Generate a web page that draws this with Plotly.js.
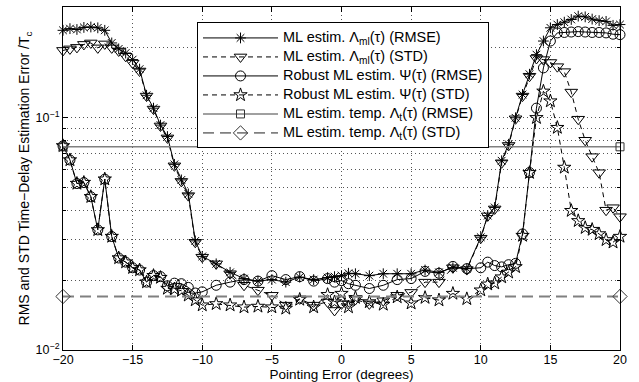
<!DOCTYPE html>
<html>
<head>
<meta charset="utf-8">
<script src="https://cdn.plot.ly/plotly-3.0.1.min.js"></script>
<style>html,body{margin:0;padding:0;background:#fff;}#chart{width:639px;height:382px;}</style>
</head>
<body>
<div id="chart"></div>
<script>
// Pointing error (degrees)
const pointingError = [-20,-19.5,-19,-18.5,-18,-17.5,-17,-16.5,-16,-15.5,-15,-14.5,-14,-13.5,-13,-12.5,-12,-11.5,-11,-10.5,-10,
  -9,-8,-7,-6,-5,-4,-3,-2,
  -1,-0.5,0,0.5,1,
  2,3,4,5,6,7,8,9,
  10,10.5,11,11.5,12,12.5,13,13.5,14,14.5,15,15.5,16,16.5,17,17.5,18,18.5,19,19.5,20];

const mlRmse = [0.238,0.242,0.240,0.245,0.246,0.244,0.238,0.210,0.198,0.190,0.178,0.162,0.125,0.110,0.093,0.083,0.063,0.054,0.047,0.0295,0.0253,
  0.0235,0.0216,0.0203,0.0198,0.0201,0.0196,0.0206,0.0201,
  0.0205,0.0207,0.0209,0.0214,0.0213,
  0.0209,0.0213,0.0213,0.0213,0.0221,0.0216,0.0226,0.0224,
  0.0306,0.0379,0.0411,0.0653,0.0769,0.100,0.126,0.154,0.187,0.214,0.244,0.252,0.258,0.265,0.274,0.272,0.266,0.262,0.260,0.250,0.252];

const mlStd = [0.195,0.198,0.201,0.207,0.210,0.200,0.208,0.200,0.194,0.184,0.172,0.159,0.124,0.109,0.0922,0.0819,0.0621,0.0532,0.0462,0.0291,0.0251,
  0.0235,0.0213,0.0190,0.0181,0.0172,0.0156,0.0166,0.0156,
  0.0161,0.0148,0.0158,0.0158,0.0165,
  0.0158,0.0163,0.0172,0.0177,0.0196,0.0196,0.0226,0.0222,
  0.0303,0.0378,0.0405,0.064,0.076,0.099,0.124,0.151,0.180,0.178,0.173,0.166,0.158,0.129,0.0986,0.080,0.068,0.058,0.040,0.041,0.0375];

const robustRmse = [0.0757,0.0658,0.0521,0.0526,0.0457,0.0329,0.0544,0.0308,0.0249,0.0239,0.0226,0.0221,0.0196,0.0209,0.0207,0.0189,0.0194,0.0193,0.0186,0.0176,0.0178,
  0.0190,0.0196,0.0201,0.0198,0.0209,0.0201,0.0207,0.0198,
  0.0203,0.0196,0.0199,0.0193,0.0190,
  0.0184,0.0190,0.0201,0.0203,0.0218,0.0214,0.0229,0.0224,
  0.0226,0.0239,0.0231,0.0228,0.0233,0.0236,0.0316,0.0581,0.110,0.164,0.214,0.232,0.233,0.234,0.235,0.234,0.233,0.233,0.232,0.229,0.228];

const robustStd = [0.0757,0.0658,0.0521,0.0526,0.0457,0.0329,0.0544,0.0308,0.0249,0.0239,0.0226,0.0221,0.0196,0.0209,0.0205,0.0184,0.0183,0.0180,0.0172,0.0164,0.0156,
  0.0158,0.0156,0.0153,0.0154,0.0153,0.0151,0.0165,0.0153,
  0.0173,0.0161,0.0175,0.0153,0.0168,
  0.0161,0.0157,0.0169,0.0159,0.0168,0.0164,0.0175,0.0166,
  0.0181,0.0192,0.0194,0.0206,0.0216,0.0228,0.0311,0.058,0.100,0.130,0.118,0.0907,0.0611,0.0398,0.0360,0.0336,0.0330,0.0316,0.0298,0.0291,0.0308];

const tempX = [-20, 20];
const tempRmse = [0.075, 0.075];
const tempStd = [0.017, 0.017];

const seriesNames = [
  'ML estim. Λ<sub>ml</sub>(τ) (RMSE)',
  'ML estim. Λ<sub>ml</sub>(τ) (STD)',
  'Robust ML estim. Ψ(τ) (RMSE)',
  'Robust ML estim. Ψ(τ) (STD)',
  'ML estim. temp. Λ<sub>t</sub>(τ) (RMSE)',
  'ML estim. temp. Λ<sub>t</sub>(τ) (STD)'
];

const yMajorVals = [0.01, 0.1];
const yMajorText = ['10<sup>−2</sup>', '10<sup>−1</sup>'];
const yMinorVals = [0.02,0.03,0.04,0.05,0.06,0.07,0.08,0.09,0.2,0.3];

function legendLabel(s){ return '<span style="font-size:14.5px">' + s + '</span>'; }
function mk(sym, size){ return {symbol: sym, size: size, color: 'black', line: {color: 'black', width: 1}}; }

const traces = [
  {x: pointingError, y: mlRmse, name: legendLabel(seriesNames[0]), mode: 'lines+markers', cliponaxis: false,
   line: {color: 'black', width: 1}, marker: mk('asterisk-open', 9)},
  {x: pointingError, y: mlStd, name: legendLabel(seriesNames[1]), mode: 'lines+markers', cliponaxis: false,
   line: {color: 'black', width: 1, dash: '5px,4px'}, marker: mk('triangle-down-open', 11)},
  {x: pointingError, y: robustRmse, name: legendLabel(seriesNames[2]), mode: 'lines+markers', cliponaxis: false,
   line: {color: 'black', width: 1}, marker: mk('circle-open', 10)},
  {x: pointingError, y: robustStd, name: legendLabel(seriesNames[3]), mode: 'lines+markers', cliponaxis: false,
   line: {color: 'black', width: 1, dash: '5px,4px'}, marker: mk('star-open', 10)},
  {x: tempX, y: tempRmse, name: legendLabel(seriesNames[4]), mode: 'lines+markers', cliponaxis: false,
   line: {color: '#808080', width: 1.5}, marker: {symbol: 'square-open', size: 8, color: '#333', line: {color: '#333', width: 1}}},
  {x: tempX, y: tempStd, name: legendLabel(seriesNames[5]), mode: 'lines+markers', cliponaxis: false,
   line: {color: '#808080', width: 1.8, dash: '11px,6px'}, marker: {symbol: 'diamond-open', size: 11, color: '#333', line: {color: '#333', width: 1}}}
];

const fam = 'Liberation Sans, Arial, Helvetica, sans-serif';
const tickFont = {family: fam, size: 12.5, color: 'black'};
const titleFont = {family: fam, size: 13.5, color: 'black'};
const legendFont = {family: fam, size: 11, color: 'black'};

const layout = {
  width: 639, height: 382,
  margin: {l: 63, r: 19, t: 7, b: 32},
  paper_bgcolor: 'white', plot_bgcolor: 'white',
  font: tickFont,
  showlegend: true,
  legend: {x: 0.2406, y: 0.955, xanchor: 'left', yanchor: 'top', bgcolor: 'white',
    bordercolor: 'black', borderwidth: 1, font: legendFont, itemwidth: 75, tracegroupgap: 0},
  xaxis: {
    range: [-20, 20], dtick: 5, tick0: -20,
    ticks: 'inside', ticklen: 5, tickcolor: 'black', tickfont: tickFont, ticklabelstandoff: -2,
    showline: true, linecolor: 'black', linewidth: 1, mirror: 'allticks',
    showgrid: true, gridcolor: '#555', griddash: '1px,3px', gridwidth: 1,
    zeroline: false,
    title: {text: 'Pointing Error (degrees)', font: titleFont, standoff: 4}
  },
  yaxis: {
    type: 'log', range: [-2, -0.523],
    tickmode: 'array', tickvals: yMajorVals, ticktext: yMajorText,
    ticks: 'inside', ticklen: 5, tickcolor: 'black', tickfont: tickFont,
    showline: true, linecolor: 'black', linewidth: 1, mirror: 'allticks',
    showgrid: true, gridcolor: '#555', griddash: '1px,3px', gridwidth: 1,
    minor: {tickmode: 'array', tickvals: yMinorVals, ticks: 'inside', ticklen: 3, tickcolor: 'black',
      showgrid: true, gridcolor: '#555', griddash: '1px,3px', gridwidth: 1},
    zeroline: false,
    title: {text: 'RMS and STD Time−Delay Estimation Error /T<sub>c</sub>', font: {family: fam, size: 14, color: 'black'}, standoff: 2}
  }
};

Plotly.newPlot('chart', traces, layout, {displayModeBar: false, staticPlot: true});
</script>
</body>
</html>
